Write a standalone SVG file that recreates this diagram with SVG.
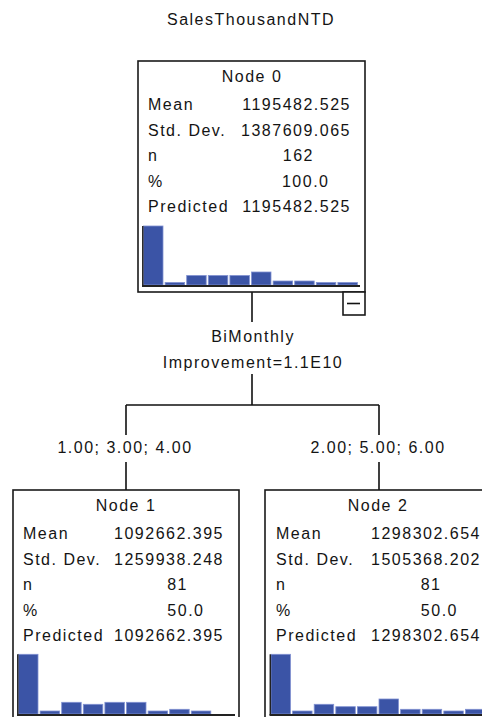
<svg xmlns="http://www.w3.org/2000/svg" width="482" height="717" viewBox="0 0 482 717">
  <style>
    text { font-family: "Liberation Sans", Arial, sans-serif; font-size: 16px; fill: #141414; letter-spacing: 1.5px; }
    .mid { text-anchor: middle; }
    .end { text-anchor: end; }
    .box { fill: #ffffff; stroke: #1a1a1a; stroke-width: 1.6; }
    .bar { fill: #3b54a6; stroke: #8091d2; stroke-width: 0.8; }
    .axis { stroke: #222222; fill: none; }
    .wire { stroke: #111111; stroke-width: 1.6; fill: none; }
  </style>

  <rect width="482" height="717" fill="#ffffff"/>

  <text class="mid" x="251" y="25">SalesThousandNTD</text>

  <!-- connectors -->
  <g id="connectors">
    <path class="wire" d="M252 292 V322"/>
    <path class="wire" d="M252 374 V405 M126 405 H379 M126 405 V435 M379 405 V435"/>
    <path class="wire" d="M126 462 V490 M379 462 V490"/>
  </g>

  <!-- split labels -->
  <g id="split">
    <text class="mid" x="253" y="342">BiMonthly</text>
    <text class="mid" x="253" y="368">Improvement=1.1E10</text>
    <text class="mid" x="125" y="453">1.00; 3.00; 4.00</text>
    <text class="mid" x="378" y="453">2.00; 5.00; 6.00</text>
  </g>

  <!-- Node 0 -->
  <g id="node0" transform="translate(138,61)">
    <rect class="box" x="0" y="0" width="227" height="231"/>
    <text class="mid" x="114" y="21">Node 0</text>
    <text x="10" y="49">Mean</text>
    <text class="end" x="213" y="49">1195482.525</text>
    <text x="10" y="74.5">Std. Dev.</text>
    <text class="end" x="213" y="74.5">1387609.065</text>
    <text x="10" y="100">n</text>
    <text class="end" x="176" y="100">162</text>
    <text x="10" y="125.5">%</text>
    <text class="end" x="191.5" y="125.5">100.0</text>
    <text x="10" y="151">Predicted</text>
    <text class="end" x="213" y="151">1195482.525</text>
    <g>
      <rect class="bar" x="5.5" y="165" width="19.5" height="59"/>
      <rect class="bar" x="27.1" y="221.5" width="19.5" height="2.5"/>
      <rect class="bar" x="48.7" y="214.5" width="19.5" height="9.5"/>
      <rect class="bar" x="70.3" y="214.5" width="19.5" height="9.5"/>
      <rect class="bar" x="91.9" y="214.5" width="19.5" height="9.5"/>
      <rect class="bar" x="113.5" y="211" width="19.5" height="13"/>
      <rect class="bar" x="135.1" y="220" width="19.5" height="4"/>
      <rect class="bar" x="156.7" y="220" width="19.5" height="4"/>
      <rect class="bar" x="178.3" y="221.5" width="19.5" height="2.5"/>
      <rect class="bar" x="199.9" y="221.5" width="19.5" height="2.5"/>
      <path class="axis" stroke-width="1.5" d="M4.8 165 V225"/>
      <path class="axis" stroke-width="2" d="M4 225 H222"/>
    </g>
    <rect class="box" x="205" y="231" width="22" height="23"/>
    <path class="wire" d="M209 242.5 H222"/>
  </g>

  <!-- Node 1 -->
  <g id="node1" transform="translate(13,490)">
    <rect class="box" x="0" y="0" width="226" height="231"/>
    <text class="mid" x="113" y="21">Node 1</text>
    <text x="10" y="49">Mean</text>
    <text class="end" x="211" y="49">1092662.395</text>
    <text x="10" y="74.5">Std. Dev.</text>
    <text class="end" x="211" y="74.5">1259938.248</text>
    <text x="10" y="100">n</text>
    <text class="end" x="175" y="100">81</text>
    <text x="10" y="125.5">%</text>
    <text class="end" x="191.5" y="125.5">50.0</text>
    <text x="10" y="151">Predicted</text>
    <text class="end" x="211" y="151">1092662.395</text>
    <g>
      <rect class="bar" x="5.5" y="164.3" width="19.5" height="59.7"/>
      <rect class="bar" x="27.1" y="221" width="19.5" height="3"/>
      <rect class="bar" x="48.7" y="212.3" width="19.5" height="11.7"/>
      <rect class="bar" x="70.3" y="214.3" width="19.5" height="9.7"/>
      <rect class="bar" x="91.9" y="212.3" width="19.5" height="11.7"/>
      <rect class="bar" x="113.5" y="212.3" width="19.5" height="11.7"/>
      <rect class="bar" x="135.1" y="221" width="19.5" height="3"/>
      <rect class="bar" x="156.7" y="219.3" width="19.5" height="4.7"/>
      <rect class="bar" x="178.3" y="221" width="19.5" height="3"/>
      <path class="axis" stroke-width="1.5" d="M4.8 164.3 V225"/>
      <path class="axis" stroke-width="2" d="M4 225 H222"/>
    </g>
  </g>

  <!-- Node 2 -->
  <g id="node2" transform="translate(265,490)">
    <rect class="box" x="0" y="0" width="226" height="231"/>
    <text class="mid" x="113" y="21">Node 2</text>
    <text x="11" y="49">Mean</text>
    <text class="end" x="216" y="49">1298302.654</text>
    <text x="11" y="74.5">Std. Dev.</text>
    <text class="end" x="216" y="74.5">1505368.202</text>
    <text x="11" y="100">n</text>
    <text class="end" x="176.5" y="100">81</text>
    <text x="11" y="125.5">%</text>
    <text class="end" x="193" y="125.5">50.0</text>
    <text x="11" y="151">Predicted</text>
    <text class="end" x="216" y="151">1298302.654</text>
    <g>
      <rect class="bar" x="6" y="164.3" width="19.5" height="59.7"/>
      <rect class="bar" x="27.6" y="221" width="19.5" height="3"/>
      <rect class="bar" x="49.2" y="214.3" width="19.5" height="9.7"/>
      <rect class="bar" x="70.8" y="216.7" width="19.5" height="7.3"/>
      <rect class="bar" x="92.4" y="216.7" width="19.5" height="7.3"/>
      <rect class="bar" x="114" y="209" width="19.5" height="15"/>
      <rect class="bar" x="135.6" y="219.3" width="19.5" height="4.7"/>
      <rect class="bar" x="157.2" y="219.3" width="19.5" height="4.7"/>
      <rect class="bar" x="178.8" y="221" width="19.5" height="3"/>
      <rect class="bar" x="200.4" y="219.3" width="19.5" height="4.7"/>
      <path class="axis" stroke-width="1.5" d="M5.3 164.3 V225"/>
      <path class="axis" stroke-width="2" d="M4.5 225 H222"/>
    </g>
  </g>
</svg>
